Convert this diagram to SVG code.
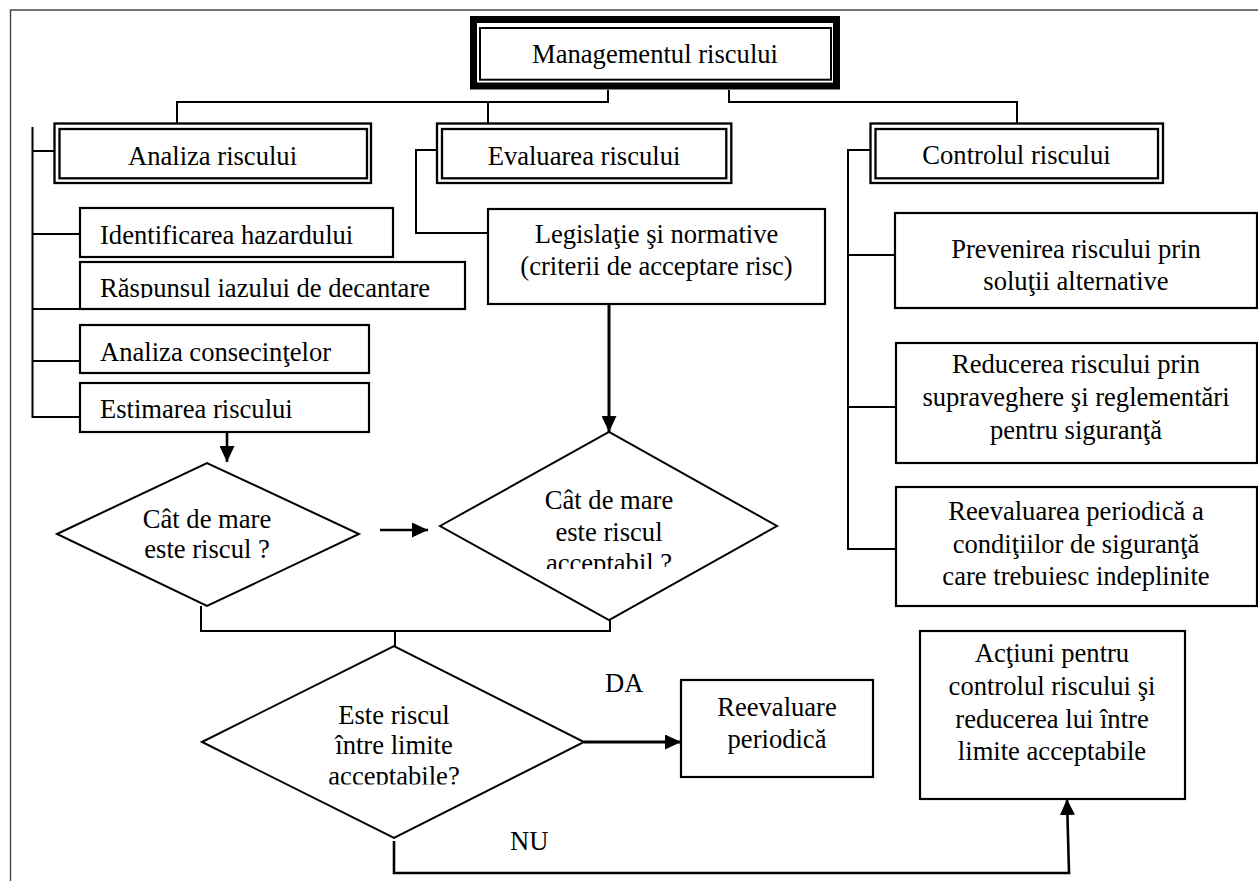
<svg xmlns="http://www.w3.org/2000/svg" width="1258" height="881" viewBox="0 0 1258 881">
  <style>
    .box { fill: #fff; stroke: #000; stroke-width: 2.2; }
    .dbl { fill: none; stroke: #000; stroke-width: 2.3; }
    .dia { fill: #fff; stroke: #000; stroke-width: 2; }
    .ln { fill: none; stroke: #000; stroke-width: 2; }
    .arr { fill: none; stroke: #000; stroke-width: 2.6; marker-end: url(#head); }
    text { font-family: "Liberation Serif", "Times New Roman", serif; font-size: 26.6px; fill: #000; }
    .c { text-anchor: middle; }
  </style>
  <defs>
    <marker id="head" markerUnits="userSpaceOnUse" markerWidth="16" markerHeight="15" refX="16" refY="7.5" orient="auto">
      <path d="M0,0 L16,7.5 L0,15 z" fill="#000"/>
    </marker>
    <clipPath id="clipRasp"><rect x="80" y="262" width="385" height="36"/></clipPath>
    <clipPath id="clipD2"><rect x="440" y="432" width="337" height="137"/></clipPath>
    <clipPath id="clipD3"><rect x="202" y="646" width="382" height="138.5"/></clipPath>
  </defs>

  <rect width="1258" height="881" fill="#fff"/>
  <!-- page frame (top and left edges) -->
  <path d="M1258,10 H10.5 V881" fill="none" stroke="#444" stroke-width="1.4"/>

  <!-- connectors -->
  <g id="connectors">
    <path class="ln" d="M608,90 V102 H177 V123"/>
    <path class="ln" d="M488,102 V123"/>
    <path class="ln" d="M729,90 V102 H1017 V124"/>
    <!-- analysis bracket -->
    <path class="ln" d="M32.5,127 V418"/>
    <path class="ln" d="M32.5,151 H54 M32.5,234 H80 M32.5,309 H80 M32.5,361 H80 M32.5,417 H80"/>
    <!-- evaluation bracket -->
    <path class="ln" d="M437,150 H416 V233 H488"/>
    <!-- control bracket -->
    <path class="ln" d="M870,150 H848 V549 H896 M848,255 H895 M848,407 H896"/>
    <!-- flow arrows -->
    <path class="arr" d="M227,432 V462"/>
    <path class="arr" style="stroke-width:3" d="M609,304 V432"/>
    <path class="arr" d="M380,530 H428"/>
    <path class="ln" d="M201,606 V631 H610 V620 M395,631 V646"/>
    <path class="arr" style="stroke-width:3" d="M584,742 H681"/>
    <path class="arr" style="stroke-width:2.6" d="M394,841 V873 H1069 L1067,799"/>
  </g>

  <!-- top node -->
  <g id="n-management">
    <rect x="473.5" y="19.5" width="363" height="66.5" fill="#fff" stroke="#000" stroke-width="7"/>
    <rect x="480" y="28" width="351" height="51.7" fill="none" stroke="#000" stroke-width="2"/>
    <text class="c" x="655" y="63">Managementul riscului</text>
  </g>

  <!-- second level -->
  <g id="n-analiza">
    <rect class="dbl" x="54.5" y="123.5" width="316.5" height="59.5"/>
    <rect class="dbl" x="59.5" y="129" width="307.5" height="49.3"/>
    <text class="c" x="212.5" y="164.5">Analiza riscului</text>
  </g>
  <g id="n-evaluarea">
    <rect class="dbl" x="437" y="123.5" width="294.3" height="59.5"/>
    <rect class="dbl" x="442" y="129" width="284.3" height="49.3"/>
    <text class="c" x="584" y="164.5">Evaluarea riscului</text>
  </g>
  <g id="n-controlul">
    <rect class="dbl" x="870.5" y="123.5" width="292.5" height="59.5"/>
    <rect class="dbl" x="875.5" y="129" width="282.5" height="49.3"/>
    <text class="c" x="1016.5" y="164">Controlul riscului</text>
  </g>

  <!-- analysis steps -->
  <g id="n-identificarea">
    <rect class="box" x="80" y="208" width="313" height="49"/>
    <text x="100" y="244">Identificarea hazardului</text>
  </g>
  <g id="n-raspunsul">
    <rect class="box" x="80" y="262" width="385" height="47"/>
    <text x="100" y="296.5" clip-path="url(#clipRasp)">Răspunsul iazului de decantare</text>
  </g>
  <g id="n-consecinte">
    <rect class="box" x="80" y="325" width="289" height="48"/>
    <text x="100" y="361">Analiza consecinţelor</text>
  </g>
  <g id="n-estimarea">
    <rect class="box" x="80" y="383" width="289" height="49"/>
    <text x="100" y="418">Estimarea riscului</text>
  </g>

  <!-- evaluation criteria -->
  <g id="n-legislatie">
    <rect class="box" x="488" y="209" width="337" height="95"/>
    <text class="c" x="656.5" y="243">Legislaţie şi normative</text>
    <text class="c" x="656.5" y="275">(criterii de acceptare risc)</text>
  </g>

  <!-- control measures -->
  <g id="n-prevenirea">
    <rect class="box" x="895" y="213" width="362" height="95"/>
    <text class="c" x="1076" y="258">Prevenirea riscului prin</text>
    <text class="c" x="1076" y="290">soluţii alternative</text>
  </g>
  <g id="n-reducerea">
    <rect class="box" x="896" y="343" width="361" height="120"/>
    <text class="c" x="1076" y="373">Reducerea riscului prin</text>
    <text class="c" x="1076" y="406">supraveghere şi reglementări</text>
    <text class="c" x="1076" y="439">pentru siguranţă</text>
  </g>
  <g id="n-reevaluarea">
    <rect class="box" x="896" y="487" width="361" height="119"/>
    <text class="c" x="1076" y="520">Reevaluarea periodică a</text>
    <text class="c" x="1076" y="553">condiţiilor de siguranţă</text>
    <text class="c" x="1076" y="585">care trebuiesc indeplinite</text>
  </g>

  <!-- decisions -->
  <g id="n-cat-mare">
    <polygon class="dia" points="57,534 207,463 359,534 207,606"/>
    <text class="c" x="207" y="528">Cât de mare</text>
    <text class="c" x="207" y="558">este riscul ?</text>
  </g>
  <g id="n-cat-acceptabil">
    <polygon class="dia" points="440,526 609,432 777,526 609,620"/>
    <text class="c" x="609" y="509">Cât de mare</text>
    <text class="c" x="609" y="541">este riscul</text>
    <text class="c" x="609" y="572" clip-path="url(#clipD2)">acceptabil ?</text>
  </g>
  <g id="n-intre-limite">
    <polygon class="dia" points="202,742 394,646 584,742 394,838"/>
    <text class="c" x="394" y="724">Este riscul</text>
    <text class="c" x="394" y="754">între limite</text>
    <text class="c" x="394" y="785" clip-path="url(#clipD3)">acceptabile?</text>
  </g>

  <!-- outcomes -->
  <g id="n-reevaluare">
    <rect class="box" x="681" y="680" width="192" height="97"/>
    <text class="c" x="777" y="716">Reevaluare</text>
    <text class="c" x="777" y="748">periodică</text>
  </g>
  <g id="n-actiuni">
    <rect class="box" x="920" y="631" width="265" height="168"/>
    <text class="c" x="1052" y="662">Acţiuni pentru</text>
    <text class="c" x="1052" y="695">controlul riscului şi</text>
    <text class="c" x="1052" y="728">reducerea lui între</text>
    <text class="c" x="1052" y="760">limite acceptabile</text>
  </g>

  <g id="labels">
    <text x="605" y="692">DA</text>
    <text x="510" y="850">NU</text>
  </g>
</svg>
